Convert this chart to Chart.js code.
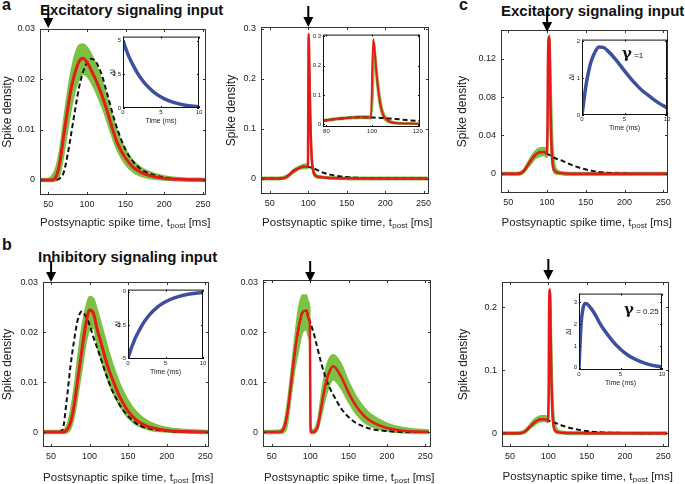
<!DOCTYPE html>
<html>
<head>
<meta charset="utf-8">
<script src="https://cdn.jsdelivr.net/npm/chart.js@4.4.0/dist/chart.umd.min.js"></script>
<style>
  body { margin: 0; width: 685px; height: 484px; background: #fff; position: relative; overflow: hidden;
         font-family: "Liberation Sans", Arial, sans-serif; }
  canvas { position: absolute; }
  .lbl { position: absolute; white-space: nowrap; color: #111; line-height: 1; }
  .pl { font-weight: bold; font-size: 16px; }
  .head { font-weight: bold; font-size: 15px; }
  .gam { font-size: 8px; }
  .gam b { font-size: 15px; font-family: "DejaVu Serif", serif; }
</style>
</head>
<body>
<div class="lbl pl" style="left:2px;top:-3px">a</div>
<div class="lbl head" style="left:40px;top:2px">Excitatory signaling input</div>
<div class="lbl pl" style="left:2px;top:237px">b</div>
<div class="lbl head" style="left:38px;top:249px">Inhibitory signaling input</div>
<div class="lbl pl" style="left:459px;top:-3px">c</div>
<div class="lbl head" style="left:501px;top:3px">Excitatory signaling input</div>

<canvas id="a1"></canvas>
<canvas id="a2"></canvas>
<canvas id="c1"></canvas>
<canvas id="b1"></canvas>
<canvas id="b2"></canvas>
<canvas id="c2"></canvas>
<canvas id="a1In"></canvas>
<canvas id="a2In"></canvas>
<canvas id="c1In"></canvas>
<canvas id="b1In"></canvas>
<canvas id="c2In"></canvas>

<div class="lbl gam" style="left:622px;top:46px"><b>γ</b> =1</div>
<div class="lbl gam" style="left:624px;top:302px"><b>γ</b> = 0.25</div>

<script>
// postsynaptic spike time grids (ms)
var tSmooth = [40, 50, 55, 60, 65, 70, 75, 80, 85, 90, 95, 100, 105, 110, 115, 120, 125, 130, 135, 140, 150, 160, 170, 180, 200, 225, 255];
var tSpike = [40, 50, 60, 65, 70, 75, 80, 85, 90, 95, 98, 99.5, 100.5, 101, 102, 103, 104, 105, 107, 110, 115, 120, 125, 130, 140, 150, 160, 170, 180, 200, 225, 255];

// a (left): excitatory input at 50 ms
var a1Red  = [0, 0, 0, 0.0006, 0.0035, 0.0088, 0.014, 0.0185, 0.0215, 0.0236, 0.0242, 0.0234, 0.022, 0.0204, 0.0186, 0.0166, 0.0143, 0.0117, 0.0092, 0.0071, 0.0043, 0.0025, 0.0015, 0.0009, 0.0003, 0.0001, 0];
var a1Dash = [0, 0, 0, 0, 0.0003, 0.0015, 0.005, 0.0095, 0.0142, 0.0185, 0.0215, 0.0233, 0.0241, 0.0238, 0.0225, 0.0205, 0.0178, 0.015, 0.0122, 0.0098, 0.006, 0.0036, 0.0021, 0.0013, 0.0005, 0.0001, 0];
var a1Hi   = [0.0003, 0.0003, 0.0009, 0.0025, 0.0062, 0.012, 0.0175, 0.022, 0.0252, 0.0268, 0.027, 0.0264, 0.0252, 0.0236, 0.0217, 0.0195, 0.017, 0.0143, 0.0117, 0.0093, 0.006, 0.0038, 0.0025, 0.0017, 0.0008, 0.0004, 0.0003];
var a1Lo   = [-0.0003, -0.0003, -0.0003, -0.0002, 0.001, 0.005, 0.0098, 0.0143, 0.0178, 0.02, 0.021, 0.0206, 0.0195, 0.018, 0.0162, 0.0143, 0.0121, 0.0097, 0.0075, 0.0056, 0.003, 0.0015, 0.0007, 0.0003, 0, -0.0002, -0.0003];

// a (right): excitatory input at 100 ms
var a2Red  = [0, 0, 0, 0.0005, 0.002, 0.007, 0.014, 0.019, 0.0225, 0.024, 0.0238, 0.0235, 0.29, 0.262, 0.17, 0.1, 0.055, 0.03, 0.012, 0.005, 0.003, 0.002, 0.0015, 0.001, 0.0008, 0.0005, 0.0003, 0.0002, 0.0001, 0, 0, 0];
var a2Dash = [0, 0, 0, 0.0005, 0.002, 0.007, 0.014, 0.019, 0.0225, 0.024, 0.0238, 0.0235, 0.0232, 0.023, 0.0226, 0.0222, 0.0218, 0.0213, 0.0202, 0.0185, 0.0148, 0.0115, 0.0092, 0.0074, 0.0048, 0.003, 0.0018, 0.0011, 0.0006, 0.0002, 0, 0];
var a2Hi   = [0.0025, 0.0025, 0.0025, 0.003, 0.005, 0.01, 0.0175, 0.0225, 0.026, 0.0285, 0.0285, 0.028, 0.27, 0.28, 0.2, 0.13, 0.075, 0.042, 0.018, 0.0085, 0.0055, 0.004, 0.0035, 0.003, 0.0028, 0.0025, 0.0025, 0.0025, 0.0025, 0.0025, 0.0025, 0.0025];
var a2Lo   = [-0.0025, -0.0025, -0.0025, -0.002, -0.0005, 0.004, 0.0105, 0.0155, 0.019, 0.02, 0.02, 0.019, 0.1, 0.22, 0.14, 0.075, 0.04, 0.02, 0.007, 0.002, 0.0005, 0, -0.0005, -0.001, -0.0015, -0.002, -0.0025, -0.0025, -0.0025, -0.0025, -0.0025, -0.0025];

// c (top): gamma = 1
var c1Red  = [0, 0, 0, 0.0003, 0.003, 0.009, 0.015, 0.02, 0.0225, 0.0228, 0.022, 0.021, 0.05, 0.11, 0.143, 0.138, 0.09, 0.045, 0.012, 0.003, 0.001, 0.0005, 0.0003, 0.0002, 0.0001, 0, 0, 0, 0, 0, 0, 0];
var c1Dash = [0, 0, 0, 0.0003, 0.003, 0.009, 0.015, 0.02, 0.0225, 0.0228, 0.022, 0.021, 0.0207, 0.0205, 0.02, 0.0196, 0.0192, 0.0188, 0.0178, 0.0165, 0.0148, 0.0135, 0.0115, 0.0098, 0.0068, 0.0045, 0.0028, 0.0016, 0.0009, 0.0003, 0, 0];
var c1Hi   = [0.0015, 0.0015, 0.0015, 0.002, 0.005, 0.012, 0.019, 0.024, 0.027, 0.0275, 0.027, 0.026, 0.05, 0.11, 0.14, 0.145, 0.135, 0.1, 0.04, 0.01, 0.003, 0.002, 0.0015, 0.0015, 0.0015, 0.0015, 0.0015, 0.0015, 0.0015, 0.0015, 0.0015, 0.0015];
var c1Lo   = [-0.0015, -0.0015, -0.0015, -0.001, 0.001, 0.006, 0.011, 0.016, 0.018, 0.019, 0.018, 0.017, 0.02, 0.06, 0.11, 0.1, 0.05, 0.025, 0.006, 0.0005, -0.0005, -0.001, -0.0015, -0.0015, -0.0015, -0.0015, -0.0015, -0.0015, -0.0015, -0.0015, -0.0015, -0.0015];

// b (left): inhibitory input at 50 ms
var b1Red  = [0, 0, 0, 0, 0, 0.0003, 0.0018, 0.0055, 0.011, 0.0165, 0.0215, 0.0245, 0.0238, 0.0205, 0.0178, 0.015, 0.0125, 0.0105, 0.0085, 0.0068, 0.0042, 0.0025, 0.0015, 0.0009, 0.0003, 0.0001, 0];
var b1Dash = [0, 0, 0, 0, 0.0005, 0.006, 0.013, 0.0185, 0.0228, 0.0242, 0.0232, 0.0215, 0.019, 0.0168, 0.0145, 0.0122, 0.01, 0.0081, 0.0066, 0.0052, 0.0032, 0.0018, 0.001, 0.0006, 0.0002, 0, 0];
var b1Hi   = [0.0003, 0.0003, 0.0003, 0.0003, 0.0004, 0.0012, 0.004, 0.009, 0.0155, 0.021, 0.025, 0.0272, 0.0268, 0.0245, 0.0218, 0.019, 0.0162, 0.0137, 0.0115, 0.0095, 0.0064, 0.0042, 0.0028, 0.0019, 0.0009, 0.0005, 0.0003];
var b1Lo   = [-0.0003, -0.0003, -0.0003, -0.0003, -0.0003, -0.0002, 0.0005, 0.003, 0.0075, 0.0125, 0.0175, 0.0205, 0.0208, 0.0172, 0.0145, 0.012, 0.0098, 0.008, 0.0064, 0.005, 0.0028, 0.0015, 0.0008, 0.0003, 0, -0.0002, -0.0003];

// b (right): inhibitory input at 100 ms
var b2Red  = [0, 0, 0, 0.0005, 0.0035, 0.0095, 0.016, 0.021, 0.024, 0.0244, 0.0228, 0.0222, 0, 0, 0, 0, 0, 0, 0.0003, 0.0012, 0.0055, 0.0095, 0.0121, 0.0132, 0.0112, 0.0079, 0.0052, 0.0033, 0.0021, 0.0008, 0.0002, 0];
var b2Dash = [0, 0, 0, 0.0005, 0.0035, 0.0095, 0.016, 0.021, 0.024, 0.0244, 0.0228, 0.0222, 0.0219, 0.0216, 0.0211, 0.0206, 0.0201, 0.0196, 0.0184, 0.0165, 0.0135, 0.011, 0.009, 0.0075, 0.0048, 0.003, 0.0018, 0.0011, 0.0006, 0.0002, 0, 0];
var b2Hi   = [0.0003, 0.0003, 0.0004, 0.0012, 0.0055, 0.012, 0.019, 0.025, 0.0275, 0.0275, 0.026, 0.025, 0.002, 0.001, 0.0006, 0.0005, 0.0005, 0.0006, 0.001, 0.0025, 0.008, 0.0125, 0.0148, 0.0155, 0.0138, 0.0102, 0.0072, 0.005, 0.0035, 0.0018, 0.0008, 0.0004];
var b2Lo   = [-0.0003, -0.0003, -0.0003, -0.0002, 0.0012, 0.007, 0.0125, 0.0165, 0.02, 0.0205, 0.019, 0.0175, -0.0003, -0.0003, -0.0003, -0.0003, -0.0003, -0.0003, -0.0001, 0.0005, 0.0035, 0.0068, 0.0093, 0.0105, 0.0088, 0.006, 0.0036, 0.002, 0.0011, 0.0002, -0.0002, -0.0003];

// c (bottom): gamma = 0.25
var c2Red  = [0, 0, 0, 0.0003, 0.003, 0.009, 0.015, 0.0195, 0.022, 0.0222, 0.021, 0.02, 0.08, 0.2, 0.228, 0.16, 0.085, 0.04, 0.01, 0.003, 0.001, 0.0005, 0.0003, 0.0002, 0.0001, 0, 0, 0, 0, 0, 0, 0];
var c2Dash = [0, 0, 0, 0.0003, 0.003, 0.009, 0.015, 0.0195, 0.022, 0.0222, 0.021, 0.02, 0.0198, 0.0196, 0.0192, 0.0188, 0.0184, 0.018, 0.0171, 0.0158, 0.0135, 0.0113, 0.0094, 0.0078, 0.0052, 0.0033, 0.002, 0.0012, 0.0007, 0.0002, 0, 0];
var c2Hi   = [0.002, 0.002, 0.002, 0.0025, 0.006, 0.013, 0.02, 0.025, 0.0275, 0.028, 0.027, 0.026, 0.08, 0.2, 0.225, 0.22, 0.17, 0.1, 0.035, 0.01, 0.004, 0.0025, 0.002, 0.002, 0.002, 0.002, 0.002, 0.002, 0.002, 0.002, 0.002, 0.002];
var c2Lo   = [-0.002, -0.002, -0.002, -0.0015, 0.0005, 0.006, 0.011, 0.0155, 0.018, 0.0185, 0.0175, 0.0165, 0.03, 0.12, 0.16, 0.11, 0.06, 0.025, 0.006, 0.0005, -0.0005, -0.0015, -0.002, -0.002, -0.002, -0.002, -0.002, -0.002, -0.002, -0.002, -0.002, -0.002];

// insets: input current dI over time (ms)
var inTime = [0, 0.25, 0.5, 0.75, 1, 1.5, 2, 2.5, 3, 4, 5, 6, 7, 8, 9, 10];
var a1dI = [5.0, 4.6, 4.2, 3.85, 3.55, 3.0, 2.5, 2.1, 1.75, 1.2, 0.82, 0.55, 0.36, 0.22, 0.14, 0.1];
var b1dI = [-5.0, -4.55, -4.15, -3.8, -3.45, -2.9, -2.4, -2.0, -1.65, -1.12, -0.76, -0.5, -0.33, -0.2, -0.12, -0.07];
var c1dI = [0, 0.45, 0.85, 1.15, 1.4, 1.7, 1.85, 1.84, 1.75, 1.5, 1.2, 0.92, 0.68, 0.5, 0.33, 0.2];
var c2dI = [0, 2.0, 2.75, 2.95, 2.92, 2.7, 2.4, 2.05, 1.75, 1.25, 0.85, 0.55, 0.35, 0.2, 0.1, 0.05];

// tick values / labels
var tpostTicks = [50, 100, 150, 200, 250];
var tpostLabels = ['50', '100', '150', '200', '250'];
var smallTicks = [0, 0.01, 0.02, 0.03];
var smallLabels = ['0', '0.01', '0.02', '0.03'];
var a2Ticks = [0, 0.1, 0.2, 0.3];
var a2Labels = ['0', '0.1', '0.2', '0.3'];
var c1Ticks = [0, 0.04, 0.08, 0.12];
var c1Labels = ['0', '0.04', '0.08', '0.12'];
var c2Ticks = [0, 0.1, 0.2];
var c2Labels = ['0', '0.1', '0.2'];
var timeTicks = [0, 5, 10];
var timeLabels = ['0', '5', '10'];
var zoomTicks = [80, 100, 120];
var zoomLabels = ['80', '100', '120'];
// x title: text, subscript, text
var xTitleParts = ['Postsynaptic spike time, t', 'post', ' [ms]'];

var FONT = '"Liberation Sans", Arial, sans-serif';
var RED = '#e41a1c';
var GREEN = '#7cc142';
var BLUE = '#3e4f9e';

function pts(xs, ys) {
  return xs.map(function(x, i) { return {x: x, y: ys[i]}; });
}

function psth(xs, red, dash, hi, lo, rw) {
  var base = {pointRadius: 0, cubicInterpolationMode: 'monotone'};
  return [
    Object.assign({data: pts(xs, red), borderColor: RED, borderWidth: rw || 3, fill: false}, base),
    Object.assign({data: pts(xs, dash), borderColor: '#111', borderWidth: 2, borderDash: [5, 3], fill: false}, base),
    Object.assign({data: pts(xs, hi), borderColor: GREEN, backgroundColor: GREEN, borderWidth: 1.5, fill: 3}, base),
    Object.assign({data: pts(xs, lo), borderColor: GREEN, borderWidth: 1.5, fill: false}, base)
  ];
}

function blueLine(ys) {
  return [{data: pts(inTime, ys), borderColor: BLUE, borderWidth: 3.5, pointRadius: 0, cubicInterpolationMode: 'monotone', fill: false}];
}

// box frame, inward ticks, white inset background, stimulus arrow, x title with subscript
var framePlugin = {
  id: 'frame',
  beforeDatasetsDraw: function(chart, args, o) {
    if (!o.bg) return;
    var a = chart.chartArea;
    chart.ctx.save();
    chart.ctx.fillStyle = '#fff';
    chart.ctx.fillRect(a.left, a.top, a.right - a.left, a.bottom - a.top);
    chart.ctx.restore();
  },
  afterDraw: function(chart, args, o) {
    var ctx = chart.ctx, a = chart.chartArea, xs = chart.scales.x, ys = chart.scales.y;
    var L = o.tick || 3;
    ctx.save();
    ctx.strokeStyle = o.color || '#333';
    ctx.lineWidth = 1;
    ctx.strokeRect(a.left + 0.5, a.top + 0.5, a.right - a.left - 1, a.bottom - a.top - 1);
    ctx.beginPath();
    xs.ticks.forEach(function(t) {
      var p = Math.round(xs.getPixelForValue(t.value)) + 0.5;
      ctx.moveTo(p, a.bottom); ctx.lineTo(p, a.bottom - L);
      ctx.moveTo(p, a.top); ctx.lineTo(p, a.top + L);
    });
    ys.ticks.forEach(function(t) {
      var p = Math.round(ys.getPixelForValue(t.value)) + 0.5;
      ctx.moveTo(a.left, p); ctx.lineTo(a.left + L, p);
      ctx.moveTo(a.right, p); ctx.lineTo(a.right - L, p);
    });
    ctx.stroke();
    if (o.arrowAt != null) {
      var x = xs.getPixelForValue(o.arrowAt);
      var tip = a.top + (o.arrowTip || 0);
      ctx.strokeStyle = '#000';
      ctx.fillStyle = '#000';
      ctx.lineWidth = 2;
      ctx.beginPath();
      ctx.moveTo(x, tip - 21); ctx.lineTo(x, tip - 6);
      ctx.stroke();
      ctx.beginPath();
      ctx.moveTo(x - 5, tip - 10); ctx.lineTo(x + 5, tip - 10); ctx.lineTo(x, tip);
      ctx.closePath();
      ctx.fill();
    }
    if (o.xTitle) {
      var big = '11.5px ' + FONT, small = '8px ' + FONT;
      ctx.font = big;
      var w1 = ctx.measureText(o.xTitle[0]).width, w3 = ctx.measureText(o.xTitle[2]).width;
      ctx.font = small;
      var w2 = ctx.measureText(o.xTitle[1]).width;
      var x0 = (a.left + a.right) / 2 - (w1 + w2 + w3) / 2 + 2;
      var base = chart.height - 3;
      ctx.fillStyle = '#222';
      ctx.textBaseline = 'alphabetic';
      ctx.textAlign = 'left';
      ctx.font = big;
      ctx.fillText(o.xTitle[0], x0, base);
      ctx.font = small;
      ctx.fillText(o.xTitle[1], x0 + w1 + 0.5, base + 2);
      ctx.font = big;
      ctx.fillText(o.xTitle[2], x0 + w1 + w2 + 0.5, base);
    }
    ctx.restore();
  }
};

function makeChart(id, box, pad, xr, yr, xTicks, xLabels, yTicks, yLabels, datasets, opt) {
  var cv = document.getElementById(id);
  var w = box.r - box.l + pad.l + pad.r, h = box.b - box.t + pad.t + pad.b;
  cv.width = w; cv.height = h;
  cv.style.left = (box.l - pad.l) + 'px';
  cv.style.top = (box.t - pad.t) + 'px';
  cv.style.width = w + 'px';
  cv.style.height = h + 'px';
  var tf = {family: FONT, size: opt.tickSize};
  var titleFont = {family: FONT, size: opt.titleSize};
  return new Chart(cv, {
    type: 'line',
    data: {datasets: datasets},
    options: {
      responsive: false,
      animation: false,
      devicePixelRatio: 1,
      events: [],
      layout: {padding: {left: 0, top: pad.t, right: pad.r, bottom: 0}},
      plugins: {
        legend: {display: false},
        tooltip: {enabled: false},
        frame: opt.frame
      },
      scales: {
        x: {
          type: 'linear', min: xr[0], max: xr[1],
          afterBuildTicks: function(s) { s.ticks = xTicks.map(function(v) { return {value: v}; }); },
          afterFit: function(s) { s.height = pad.b; },
          grid: {display: false, drawTicks: false},
          border: {display: false},
          ticks: {autoSkip: false, maxRotation: 0, padding: opt.xPad, font: tf, color: '#222',
                  callback: function(v, i) { return xLabels[i]; }},
          title: {display: !!opt.xTitle, text: opt.xTitle || '', font: titleFont, color: '#222', padding: 0}
        },
        y: {
          type: 'linear', min: yr[0], max: yr[1],
          afterBuildTicks: function(s) { s.ticks = yTicks.map(function(v) { return {value: v}; }); },
          afterFit: function(s) { s.width = pad.l; },
          grid: {display: false, drawTicks: false},
          border: {display: false},
          ticks: {autoSkip: false, padding: opt.yPad, font: tf, color: '#222',
                  callback: function(v, i) { return yLabels[i]; }},
          title: {display: !!opt.yTitle, text: opt.yTitle || '', font: titleFont, color: '#222', padding: 0}
        }
      }
    },
    plugins: [framePlugin]
  });
}

function mainOpt(arrowAt, yTitle, tip) {
  return {tickSize: 9, titleSize: 12, xPad: 4, yPad: 5, xTitle: '', yTitle: yTitle,
          frame: {arrowAt: arrowAt, arrowTip: tip || 0, tick: 3, color: '#333', xTitle: xTitleParts}};
}
function insetOpt(yTitle) {
  return {tickSize: 6, titleSize: 7, xPad: 1, yPad: 2, xTitle: yTitle ? 'Time (ms)' : '', yTitle: yTitle,
          frame: {bg: true, tick: 2, color: '#111'}};
}

// main panels
makeChart('a1', {l: 40, t: 29, r: 206, b: 195}, {l: 40, t: 34, r: 12, b: 34}, [39.3, 254], [-0.003, 0.03],
  tpostTicks, tpostLabels, smallTicks, smallLabels, psth(tSmooth, a1Red, a1Dash, a1Hi, a1Lo, 3),
  mainOpt(50, 'Spike density', -1));
makeChart('a2', {l: 261, t: 27, r: 429, b: 194}, {l: 37, t: 34, r: 12, b: 35}, [38.5, 257], [-0.031, 0.304],
  tpostTicks, tpostLabels, a2Ticks, a2Labels, psth(tSpike, a2Red, a2Dash, a2Hi, a2Lo, 2.5),
  mainOpt(100, 'Spike density', 0));
makeChart('c1', {l: 501, t: 30, r: 668, b: 193}, {l: 46, t: 34, r: 12, b: 36}, [40.5, 256], [-0.02, 0.15],
  tpostTicks, tpostLabels, c1Ticks, c1Labels, psth(tSpike, c1Red, c1Dash, c1Hi, c1Lo, 2.5),
  mainOpt(100, 'Spike density', 2));
makeChart('b1', {l: 43, t: 282, r: 209, b: 447}, {l: 43, t: 34, r: 12, b: 37}, [39.5, 255], [-0.003, 0.0301],
  tpostTicks, tpostLabels, smallTicks, smallLabels, psth(tSmooth, b1Red, b1Dash, b1Hi, b1Lo, 3),
  mainOpt(50, 'Spike density', 0));
makeChart('b2', {l: 263, t: 280, r: 431, b: 447}, {l: 37, t: 34, r: 12, b: 37}, [38.5, 257.5], [-0.003, 0.0305],
  tpostTicks, tpostLabels, smallTicks, smallLabels, psth(tSpike, b2Red, b2Dash, b2Hi, b2Lo, 2.5),
  mainOpt(100, '', 2));
makeChart('c2', {l: 502, t: 282, r: 669, b: 447}, {l: 46, t: 34, r: 12, b: 36}, [39.5, 257.5], [-0.022, 0.24],
  tpostTicks, tpostLabels, c2Ticks, c2Labels, psth(tSpike, c2Red, c2Dash, c2Hi, c2Lo, 2.5),
  mainOpt(100, 'Spike density', -2));

// insets
makeChart('a1In', {l: 123, t: 35, r: 199, b: 108}, {l: 14, t: 4, r: 6, b: 17}, [0, 10], [0, 5.3],
  timeTicks, timeLabels, [0, 2.5, 5], ['0', '2.5', '5'], blueLine(a1dI), insetOpt('\u0394I'));
makeChart('a2In', {l: 323, t: 33, r: 420, b: 127}, {l: 14, t: 4, r: 6, b: 12}, [78.5, 121], [-0.009, 0.306],
  zoomTicks, zoomLabels, a2Ticks, a2Labels, psth(tSpike, a2Red, a2Dash, a2Hi, a2Lo, 2), insetOpt(''));
makeChart('c1In', {l: 582, t: 38, r: 667, b: 115}, {l: 14, t: 4, r: 6, b: 17}, [0, 10], [0, 2.05],
  timeTicks, timeLabels, [0, 1, 2], ['0', '1', '2'], blueLine(c1dI), insetOpt('\u0394I'));
makeChart('b1In', {l: 128, t: 288, r: 203, b: 359}, {l: 14, t: 4, r: 6, b: 17}, [0, 10], [-5.05, 0.15],
  timeTicks, timeLabels, [-5, -2.5, 0], ['-5', '-2.5', '0'], blueLine(b1dI), insetOpt('\u0394I'));
makeChart('c2In', {l: 579, t: 292, r: 662, b: 370}, {l: 14, t: 4, r: 6, b: 17}, [0, 10], [-0.1, 3.4],
  timeTicks, timeLabels, [0, 1, 2, 3], ['0', '1', '2', '3'], blueLine(c2dI), insetOpt('\u0394I'));
</script>
</body>
</html>
